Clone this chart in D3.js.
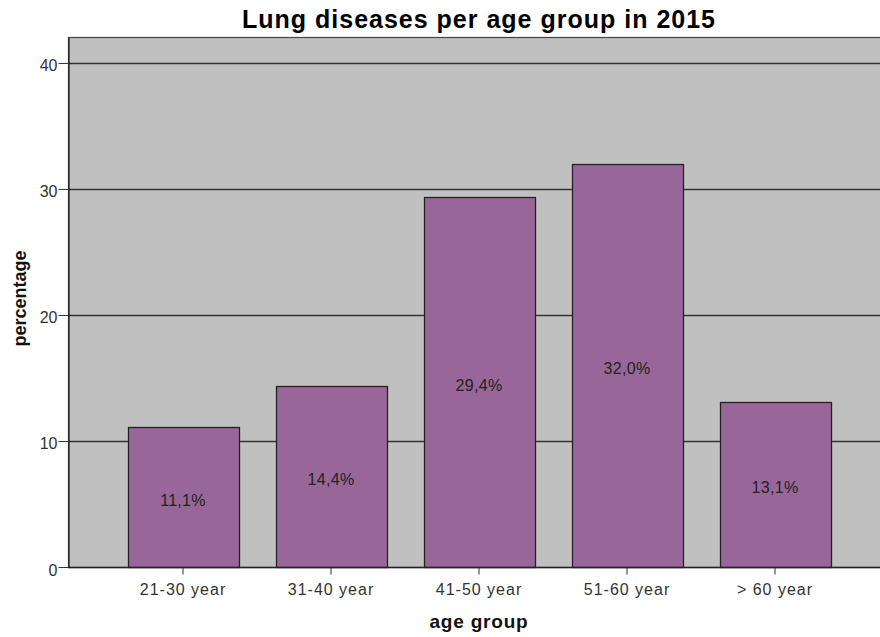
<!DOCTYPE html>
<html>
<head>
<meta charset="utf-8">
<script src="https://cdn.jsdelivr.net/npm/d3@7"></script>
<style>
  body { margin: 0; background: #fff; }
  text { font-family: "Liberation Sans", Arial, sans-serif; }
</style>
</head>
<body>
<div id="chart"></div>
<script>
// age groups and their share of lung diseases (percent)
var ageGroups = ["21-30 year", "31-40 year", "41-50 year", "51-60 year", "> 60 year"];
var percentages = [11.1, 14.4, 29.4, 32.0, 13.1];
var yTicks = [0, 10, 20, 30, 40];

var title = "Lung diseases per age group in 2015";
var xTitle = "age group";
var yTitle = "percentage";

var W = 880, H = 637;
var plot = { left: 68, top: 37, right: 890, bottom: 567 };

var svg = d3.select("#chart")
    .append("svg")
    .attr("width", W)
    .attr("height", H);

var y = d3.scaleLinear()
    .domain([0, 42.06])
    .range([plot.bottom, plot.top]);

// band scale, step matches spacing of bars in the reference
var x = d3.scaleBand()
    .domain(ageGroups)
    .range([plot.left + 41, plot.right - 41])
    .paddingInner(0.25)
    .paddingOuter(0.125);

// plot background
svg.append("rect")
    .attr("x", plot.left + 0.5)
    .attr("y", plot.top + 0.5)
    .attr("width", plot.right - plot.left)
    .attr("height", plot.bottom - plot.top)
    .attr("fill", "#c0c0c0")
    .attr("stroke", "#444")
    .attr("stroke-width", 1.2);

// gridlines
svg.append("g")
    .selectAll("line")
    .data(yTicks.filter(function(d) { return d > 0; }))
    .enter()
    .append("line")
    .attr("x1", plot.left)
    .attr("x2", plot.right)
    .attr("y1", function(d) { return Math.round(y(d)) + 0.5; })
    .attr("y2", function(d) { return Math.round(y(d)) + 0.5; })
    .attr("stroke", "#333")
    .attr("stroke-width", 1.3);

// bars
var data = ageGroups.map(function(g, i) {
    return { group: g, value: percentages[i] };
});

svg.append("g")
    .selectAll("rect")
    .data(data)
    .enter()
    .append("rect")
    .attr("x", function(d) { return Math.round(x(d.group)) + 0.5; })
    .attr("y", function(d) { return Math.round(y(d.value)) + 0.5; })
    .attr("width", Math.round(x.bandwidth()))
    .attr("height", function(d) { return Math.round(y(0)) - Math.round(y(d.value)); })
    .attr("fill", "#986699")
    .attr("stroke", "#222")
    .attr("stroke-width", 1.3);

// value labels, a bit below the middle of each bar
svg.append("g")
    .selectAll("text")
    .data(data)
    .enter()
    .append("text")
    .attr("x", function(d) { return x(d.group) + x.bandwidth() / 2; })
    .attr("y", function(d) { return (y(d.value) + y(0)) / 2; })
    .attr("dy", "0.55em")
    .attr("text-anchor", "middle")
    .style("font-size", "16px")
    .style("letter-spacing", "0.3px")
    .attr("fill", "#222")
    .text(function(d) { return d.value.toFixed(1).replace(".", ",") + "%"; });

// y axis
var yaxis = svg.append("g")
    .attr("transform", "translate(" + (plot.left + 0.5) + ",0)")
    .call(d3.axisLeft(y).tickValues(yTicks).tickSize(10).tickSizeOuter(0).tickPadding(1).tickFormat(d3.format("d")));
yaxis.select(".domain").attr("stroke", "#222").attr("stroke-width", 1.3);
yaxis.selectAll(".tick line").attr("stroke", "#333");
yaxis.selectAll("text")
    .attr("dy", "0.5em")
    .style("font-size", "16px")
    .attr("fill", "#333");

// x axis, baseline runs across the whole plot
var xaxis = svg.append("g")
    .attr("transform", "translate(0," + (plot.bottom + 0.5) + ")")
    .call(d3.axisBottom(x).tickSize(7).tickPadding(9).tickSizeOuter(0));
xaxis.select(".domain")
    .attr("d", "M" + plot.left + ",0H" + plot.right)
    .attr("stroke", "#222")
    .attr("stroke-width", 1.3);
xaxis.selectAll(".tick line").attr("stroke", "#333");
xaxis.selectAll("text")
    .style("font-size", "16px")
    .style("letter-spacing", "1px")
    .attr("fill", "#333");

// title
svg.append("text")
    .attr("x", (plot.left + plot.right) / 2)
    .attr("y", 28)
    .attr("text-anchor", "middle")
    .style("font-size", "25px")
    .style("font-weight", "bold")
    .style("letter-spacing", "1px")
    .attr("fill", "#000")
    .text(title);

// axis titles
svg.append("text")
    .attr("x", (plot.left + plot.right) / 2)
    .attr("y", 628)
    .attr("text-anchor", "middle")
    .style("font-size", "19px")
    .style("font-weight", "bold")
    .style("letter-spacing", "0.8px")
    .attr("fill", "#111")
    .text(xTitle);

svg.append("text")
    .attr("transform", "translate(26," + 298.5 + ") rotate(-90)")
    .attr("text-anchor", "middle")
    .style("font-size", "18px")
    .style("font-weight", "bold")
    .attr("fill", "#111")
    .text(yTitle);
</script>
</body>
</html>
